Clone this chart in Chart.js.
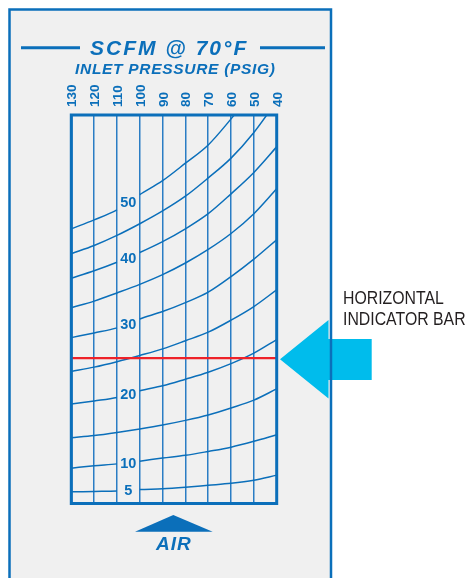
<!DOCTYPE html>
<html>
<head>
<meta charset="utf-8">
<title>SCFM @ 70°F - flowmeter scale</title>
<script src="https://cdn.jsdelivr.net/npm/chart.js@4/dist/chart.umd.min.js"></script>
<style>
  html, body { margin: 0; padding: 0; background: #fff; }
  #wrap { position: relative; width: 468px; height: 578px; }
</style>
</head>
<body>
<div id="wrap"><canvas id="scale" width="468" height="578"></canvas></div>
<script>
// Inlet pressure lines (psig), left to right across the tube
const pressures = [130, 120, 110, 100, 90, 80, 70, 60, 50, 40];

// Float position on the tube (0 = bottom of scale, 100 = top) per SCFM line,
// one value per pressure line above
const scfm5  = [3.0, 3.1, 3.2, 3.6, 3.8, 4.2, 4.7, 5.2, 6.0, 7.3];
const scfm10 = [9.1, 9.7, 10.2, 10.9, 11.7, 12.4, 13.4, 14.5, 16.0, 17.7];
const scfm15 = [16.9, 17.5, 18.3, 19.2, 20.2, 21.4, 22.8, 24.6, 26.6, 29.5];
const scfm20 = [25.6, 26.4, 27.3, 29.0, 30.3, 32.0, 33.8, 36.0, 38.7, 42.2];
const scfm25 = [34.0, 35.1, 36.5, 38.1, 39.8, 41.9, 44.1, 47.2, 50.7, 55.0];
const scfm30 = [42.7, 43.9, 45.2, 47.5, 49.4, 51.7, 54.4, 58.4, 62.9, 67.9];
const scfm35 = [50.4, 52.1, 54.2, 56.4, 58.9, 61.9, 65.4, 69.5, 74.6, 81.0];
const scfm40 = [58.0, 59.9, 62.1, 64.6, 67.4, 70.7, 74.6, 79.7, 85.2, 91.8];
const scfm45 = [64.3, 66.4, 69.0, 72.0, 75.3, 79.1, 83.8, 88.9, 95.5, 103.6];
const scfm50 = [70.7, 73.0, 75.6, 79.5, 83.1, 87.6, 92.3, 99.0, 106.4, 115.7];

// Which lines carry a printed number (line is broken between 110 and 100 psig)
const labeledCurves = [5, 10, 20, 30, 40, 50];
// Red horizontal indicator bar
const indicatorLevel = 37.4;

const BLUE = '#0b6fba';
const FONT = '"Liberation Sans", Arial, sans-serif';

const curves = [
    { scfm: 5, values: scfm5 },
    { scfm: 10, values: scfm10 },
    { scfm: 15, values: scfm15 },
    { scfm: 20, values: scfm20 },
    { scfm: 25, values: scfm25 },
    { scfm: 30, values: scfm30 },
    { scfm: 35, values: scfm35 },
    { scfm: 40, values: scfm40 },
    { scfm: 45, values: scfm45 },
    { scfm: 50, values: scfm50 }
];

const curveSets = curves.map(c => {
    const labeled = labeledCurves.includes(c.scfm);
    return {
        label: c.scfm + ' SCFM',
        data: pressures.map((p, i) => ({ x: p, y: c.values[i] })),
        borderColor: BLUE,
        borderWidth: 1.5,
        pointRadius: 0,
        cubicInterpolationMode: 'monotone',
        segment: {
            // leave room for the number between the 110 and 100 lines
            borderColor: s => (labeled && s.p0.parsed.x === 110) ? 'rgba(0,0,0,0)' : undefined
        }
    };
});

// red bar goes first so it sits on top of the curves
const datasets = [{
    label: 'indicator',
    data: [{ x: 130, y: indicatorLevel }, { x: 40, y: indicatorLevel }],
    borderColor: '#ee2229',
    borderWidth: 2.2,
    pointRadius: 0
}].concat(curveSets);

// Panel, titles, arrow and the AIR marker
const framePlugin = {
    id: 'frame',
    beforeDraw(chart) {
        const ctx = chart.ctx;
        ctx.save();
        ctx.fillStyle = '#fff';
        ctx.fillRect(0, 0, chart.width, chart.height);

        ctx.fillStyle = '#f0f0f0';
        ctx.fillRect(9.5, 9.5, 321.5, 600);

        // cyan arrow pointing at the bar
        ctx.fillStyle = '#00bcec';
        ctx.beginPath();
        ctx.moveTo(280, 359.3);
        ctx.lineTo(328.5, 320);
        ctx.lineTo(328.5, 339);
        ctx.lineTo(371.7, 339);
        ctx.lineTo(371.7, 380);
        ctx.lineTo(328.5, 380);
        ctx.lineTo(328.5, 398.5);
        ctx.closePath();
        ctx.fill();

        ctx.strokeStyle = BLUE;
        ctx.lineWidth = 2.5;
        ctx.beginPath();
        ctx.moveTo(9.5, 600);
        ctx.lineTo(9.5, 9.5);
        ctx.lineTo(331, 9.5);
        ctx.lineTo(331, 600);
        ctx.stroke();

        // title rules
        ctx.lineWidth = 3;
        ctx.beginPath();
        ctx.moveTo(21, 47.7); ctx.lineTo(80, 47.7);
        ctx.moveTo(260, 47.7); ctx.lineTo(325, 47.7);
        ctx.stroke();

        ctx.fillStyle = BLUE;
        ctx.textAlign = 'left';
        ctx.textBaseline = 'alphabetic';
        ctx.font = 'italic bold 21px ' + FONT;
        ctx.letterSpacing = '2px';
        ctx.fillText('SCFM @ 70°F', 90, 55);
        ctx.font = 'italic bold 15.5px ' + FONT;
        ctx.letterSpacing = '0.7px';
        ctx.fillText('INLET PRESSURE (PSIG)', 75, 74);
        ctx.font = 'italic bold 19px ' + FONT;
        ctx.letterSpacing = '1px';
        ctx.fillText('AIR', 156, 550);
        ctx.letterSpacing = '0px';

        ctx.beginPath();
        ctx.moveTo(135, 531.7);
        ctx.lineTo(173.3, 515);
        ctx.lineTo(212.7, 531.7);
        ctx.closePath();
        ctx.fill();

        // callout text
        ctx.fillStyle = '#231f20';
        ctx.font = '18px ' + FONT;
        ctx.translate(343, 303.5);
        ctx.scale(0.88, 1);
        ctx.fillText('HORIZONTAL', 0, 0);
        ctx.fillText('INDICATOR BAR', 0, 21.5);
        ctx.restore();
    },
    afterDraw(chart) {
        const ctx = chart.ctx;
        const area = chart.chartArea;
        const xs = chart.scales.x;
        const ys = chart.scales.y;
        ctx.save();
        ctx.strokeStyle = BLUE;
        ctx.lineWidth = 3;
        ctx.strokeRect(area.left, area.top, area.right - area.left, area.bottom - area.top);

        // numbers sit in the gap between the 110 and 100 lines
        ctx.fillStyle = BLUE;
        ctx.font = 'bold 14.5px ' + FONT;
        ctx.textAlign = 'center';
        ctx.textBaseline = 'alphabetic';
        const i110 = pressures.indexOf(110);
        const i100 = pressures.indexOf(100);
        curves.filter(c => labeledCurves.includes(c.scfm)).forEach(c => {
            const x = xs.getPixelForValue(105);
            const y = ys.getPixelForValue((c.values[i110] + c.values[i100]) / 2);
            ctx.fillText(String(c.scfm), x, y + 5.2);
        });
        ctx.restore();
    }
};

new Chart(document.getElementById('scale'), {
    type: 'line',
    data: { datasets: datasets },
    options: {
        responsive: false,
        animation: false,
        layout: { padding: { left: 71.3, right: 191.3, top: 0, bottom: 74.5 } },
        plugins: { legend: { display: false }, tooltip: { enabled: false } },
        scales: {
            x: {
                type: 'linear',
                position: 'top',
                reverse: true,
                min: 40,
                max: 130,
                afterFit: scale => { scale.height = 115; },
                border: { display: false },
                grid: { color: '#2a7dc4', lineWidth: 1.5, drawTicks: false },
                ticks: {
                    stepSize: 10,
                    autoSkip: false,
                    minRotation: 90,
                    maxRotation: 90,
                    padding: 8,
                    labelOffset: 17.5,
                    color: BLUE,
                    font: { family: FONT, size: 13.5, weight: 'bold' }
                }
            },
            y: {
                type: 'linear',
                min: 0,
                max: 100,
                display: false
            }
        }
    },
    plugins: [framePlugin]
});
</script>
</body>
</html>
